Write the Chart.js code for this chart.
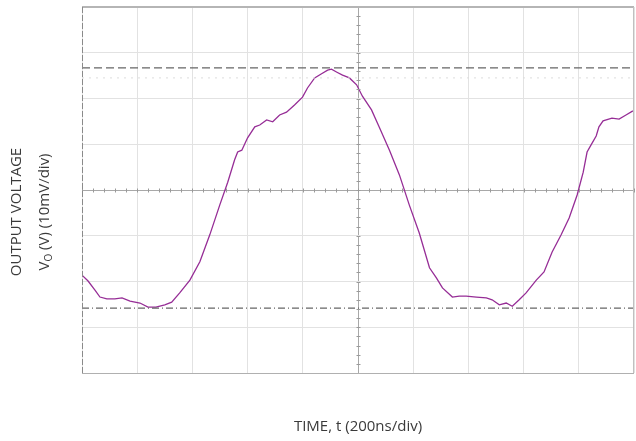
<!DOCTYPE html>
<html>
<head>
<meta charset="utf-8">
<script src="https://cdn.jsdelivr.net/npm/chart.js@4.4.0/dist/chart.umd.min.js"></script>
<style>
  html, body { margin: 0; padding: 0; background: #fff; }
  #wrap { width: 636px; height: 441px; position: relative; }
</style>
</head>
<body>
<div id="wrap"><canvas id="grafico"></canvas></div>
<script>
// tempo em ns (200 ns/div) e tensao em mV (10 mV/div)
const tempo = [0, 22, 47, 65, 90, 119, 145, 174, 210, 239, 268, 300, 325, 354, 391, 427, 463, 499, 528, 553,
  564, 579, 600, 626, 644, 669, 691, 716, 741, 770, 799, 817, 843, 868, 890, 904, 922, 944, 969, 995,
  1016, 1049, 1078, 1114, 1150, 1186, 1222, 1259, 1284, 1306, 1342, 1367, 1392, 1429, 1465, 1486, 1512, 1537, 1559, 1584,
  1609, 1646, 1674, 1703, 1736, 1765, 1794, 1816, 1830, 1844, 1863, 1873, 1888, 1920, 1946, 1971, 1996];
const tensao = [-18.6, -19.9, -21.9, -23.4, -23.8, -23.8, -23.6, -24.3, -24.7, -25.6, -25.6, -25.1, -24.5, -22.5, -19.7, -15.7, -9.8, -3.3, 1.7, 6.6,
  8.3, 8.7, 11.4, 13.8, 14.2, 15.3, 14.9, 16.4, 17.0, 18.6, 20.3, 22.3, 24.5, 25.4, 26.2, 26.4, 25.8, 25.1, 24.5, 23.0,
  20.5, 17.5, 13.6, 8.7, 3.3, -3.3, -9.4, -17.0, -19.2, -21.4, -23.4, -23.2, -23.2, -23.4, -23.6, -24.0, -25.1, -24.7, -25.4, -24.0,
  -22.5, -19.7, -17.9, -13.6, -9.8, -6.1, -1.1, 3.9, 8.3, 9.8, 11.8, 13.8, 15.1, 15.7, 15.5, 16.4, 17.3];

const nivelAlto = 26.7;   // linha tracejada
const nivelBaixo = -25.8; // linha traco-ponto
const nivelFantasma = 24.5; // linha pontilhada bem clara
const tempoMin = 0, tempoMax = 2000;
const tensaoMin = -40, tensaoMax = 40;

const tituloY1 = 'OUTPUT VOLTAGE';
const tituloX = 'TIME, t (200ns/div)';
const fonte = '"Open Sans", sans-serif';

// moldura, marcas pequenas nos eixos centrais e titulos
const marcasCentro = {
  id: 'marcasCentro',
  afterDraw(chart) {
    const ctx = chart.ctx;
    const a = chart.chartArea;
    const xs = chart.scales.x, ys = chart.scales.y;
    const xc = Math.round(xs.getPixelForValue(1000)) + 0.5, yc = Math.round(ys.getPixelForValue(0)) + 0.5;
    ctx.save();
    ctx.strokeStyle = '#9a9a9a';
    ctx.lineWidth = 1;
    for (let v = tensaoMin; v <= tensaoMax; v += 2) {
      const py = Math.round(ys.getPixelForValue(v)) + 0.5;
      ctx.beginPath(); ctx.moveTo(xc - 2, py); ctx.lineTo(xc + 2, py); ctx.stroke();
    }
    for (let t = tempoMin; t <= tempoMax; t += 40) {
      const px = Math.round(xs.getPixelForValue(t)) + 0.5;
      ctx.beginPath(); ctx.moveTo(px, yc - 2); ctx.lineTo(px, yc + 2); ctx.stroke();
    }
    // moldura
    ctx.strokeStyle = '#b5b5b5';
    ctx.lineWidth = 2;
    ctx.beginPath(); ctx.moveTo(a.left, a.top); ctx.lineTo(a.right, a.top); ctx.stroke();
    ctx.lineWidth = 1;
    ctx.strokeStyle = '#c0c0c0';
    ctx.beginPath(); ctx.moveTo(a.right - 0.5, a.top); ctx.lineTo(a.right - 0.5, a.bottom); ctx.stroke();
    ctx.strokeStyle = '#b0b0b0';
    ctx.beginPath(); ctx.moveTo(a.left, a.bottom + 0.5); ctx.lineTo(a.right, a.bottom + 0.5); ctx.stroke();
    ctx.strokeStyle = '#8a8a8a';
    ctx.setLineDash([6, 2]);
    ctx.beginPath(); ctx.moveTo(a.left + 0.5, a.top); ctx.lineTo(a.left + 0.5, a.bottom); ctx.stroke();
    ctx.setLineDash([]);
    // titulos
    ctx.fillStyle = '#3a3a3a';
    ctx.font = '15px ' + fonte;
    ctx.textAlign = 'center';
    ctx.textBaseline = 'middle';
    ctx.fillText(tituloX, 358, 427);
    ctx.translate(17, 212);
    ctx.rotate(-Math.PI / 2);
    ctx.fillText(tituloY1, 0, 0);
    ctx.restore();
    ctx.save();
    ctx.fillStyle = '#3a3a3a';
    ctx.translate(45, 212);
    ctx.rotate(-Math.PI / 2);
    ctx.textBaseline = 'middle';
    const p1 = 'V', sub = 'O', p2 = ' (V) (10mV/div)';
    ctx.font = '15px ' + fonte;
    const w1 = ctx.measureText(p1).width, w3 = ctx.measureText(p2).width;
    ctx.font = '10px ' + fonte;
    const w2 = ctx.measureText(sub).width;
    const x0 = -(w1 + w2 + w3) / 2;
    ctx.textAlign = 'left';
    ctx.font = '15px ' + fonte;
    ctx.fillText(p1, x0, 0);
    ctx.font = '10px ' + fonte;
    ctx.fillText(sub, x0 + w1, 4);
    ctx.font = '15px ' + fonte;
    ctx.fillText(p2, x0 + w1 + w2, 0);
    ctx.restore();
  }
};

const ctx = document.getElementById('grafico').getContext('2d');
const chart = new Chart(ctx, {
  type: 'line',
  data: {
    datasets: [
      {
        label: 'fantasma',
        data: [{ x: tempoMin, y: nivelFantasma }, { x: tempoMax, y: nivelFantasma }],
        borderColor: '#dcdcdc',
        borderWidth: 1,
        borderDash: [2, 5],
        pointRadius: 0,
      },
      {
        label: 'nivel alto',
        data: [{ x: tempoMin, y: nivelAlto }, { x: tempoMax, y: nivelAlto }],
        borderColor: '#666',
        borderWidth: 1.3,
        borderDash: [8, 4],
        pointRadius: 0,
      },
      {
        label: 'nivel baixo',
        data: [{ x: tempoMin, y: nivelBaixo }, { x: tempoMax, y: nivelBaixo }],
        borderColor: '#666',
        borderWidth: 1.2,
        borderDash: [7, 3, 1, 3],
        pointRadius: 0,
      },
      {
        label: 'Vo',
        data: tempo.map((t, i) => ({ x: t, y: tensao[i] })),
        borderColor: '#962d96',
        borderWidth: 1.3,
        pointRadius: 0,
        tension: 0,
      },
    ],
  },
  options: {
    responsive: true,
    maintainAspectRatio: false,
    animation: false,
    layout: { padding: { left: 82, right: 2, top: 7, bottom: 68 } },
    plugins: { legend: { display: false }, tooltip: { enabled: false } },
    scales: {
      x: {
        type: 'linear',
        min: tempoMin,
        max: tempoMax,
        ticks: { display: false, stepSize: 200 },
        grid: {
          drawTicks: false,
          color: (c) => (c.tick && c.tick.value === 1000 ? '#a8a8a8' : '#e2e2e2'),
        },
        border: { display: false },
      },
      y: {
        type: 'linear',
        min: tensaoMin,
        max: tensaoMax,
        ticks: { display: false, stepSize: 10 },
        grid: {
          drawTicks: false,
          color: (c) => (c.tick && c.tick.value === 0 ? '#a8a8a8' : '#e2e2e2'),
        },
        border: { display: false },
      },
    },
  },
  plugins: [marcasCentro],
});
</script>
</body>
</html>
